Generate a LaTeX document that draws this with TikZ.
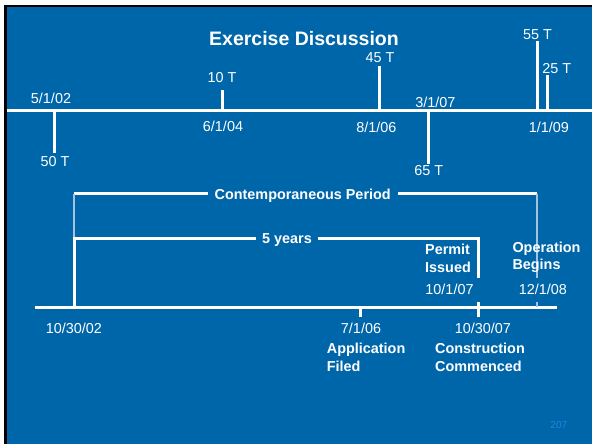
\documentclass[tikz,border=0pt]{standalone}
\usepackage{fontspec}
\setmainfont{Liberation Sans}
\definecolor{slideblue}{RGB}{0,102,170}
\definecolor{paleline}{RGB}{165,195,225}
\definecolor{pagenum}{RGB}{40,130,220}

\begin{document}
\begin{tikzpicture}[x=1pt, y=-1pt, font=\fontsize{14.4}{17.5}\selectfont,
  every node/.style={text=white, inner sep=0pt},
  bar/.style={white, line width=3pt},
  faint/.style={paleline, line width=1.2pt},
  heading/.style={font=\fontsize{14.4}{17.5}\selectfont\bfseries},
  gap/.style={fill=slideblue, inner xsep=7pt, inner ysep=2pt},
  event/.style={heading, align=left, anchor=north west}]
  % Slide
  \useasboundingbox (0,0) rectangle (592,444);
  \fill[black] (4,5) rectangle (592,444);
  \fill[slideblue] (7,7.5) rectangle (592,444);

  \node[font=\fontsize{19.5}{22}\selectfont\bfseries] (title) at (304,38.5) {Exercise Discussion};

  % Upper time line
  \draw[bar] (7,110) -- (592,110);
  \draw[bar] (54,110) -- (54,153);
  \draw[bar] (222,110) -- (222,90);
  \draw[bar] (379,110) -- (379,66);
  \draw[bar] (428.5,110) -- (428.5,164);
  \draw[bar] (537,110) -- (537,41);
  \draw[bar] (547,110) -- (547,75);

  \node (d0502) at (51,98)      {5/1/02};
  \node (t50)   at (55,161.7)   {50 T};
  \node (t10)   at (222,77.8)   {10 T};
  \node (d0604) at (223,126.5)  {6/1/04};
  \node (t45)   at (380,57.8)   {45 T};
  \node (d0806) at (376.3,127.2) {8/1/06};
  \node (d0307) at (435.3,102.8) {3/1/07};
  \node (t65)   at (428.8,170.8) {65 T};
  \node (t55)   at (537.5,34.2)  {55 T};
  \node (t25)   at (556.7,68.2)  {25 T};
  \node (d0109) at (548.8,127.2) {1/1/09};

  % Lower time line and periods
  \draw[bar] (34.5,307) -- (556.5,307);
  \draw[bar] (74,193.5) -- (537,193.5);
  \draw[faint] (74,193.5) -- (74,238);
  \draw[faint] (537,193.5) -- (537,307);
  \draw[bar] (74,307) |- (478,238) -- (478,317);
  \draw[bar] (360,307) -- (360,317);

  \node[heading, gap] (contemp) at (302.7,196) {Contemporaneous Period};
  \node[heading, gap, inner xsep=6pt] (fiveyr) at (287,240) {5 years};

  \node[fill=slideblue, inner xsep=7pt, inner ysep=7pt] (d1001) at (449.5,289.8) {10/1/07};
  \node[fill=slideblue, inner xsep=7pt, inner ysep=7pt] (d1201) at (542.8,289.8) {12/1/08};
  \node[event] (permit) at (425,244.3) {Permit\\Issued};
  \node[event] (operate) at (512.3,241.7) {Operation\\Begins};

  \node (d1030a) at (73.8,328.5) {10/30/02};
  \node (d0706)  at (361,328.8)  {7/1/06};
  \node (d1030b) at (482.8,328.8) {10/30/07};
  \node[event] (apply) at (326.7,343.3) {Application\\Filed};
  \node[event] (build) at (435,343.3) {Construction\\Commenced};

  \node[text=pagenum, font=\fontsize{10}{12}\selectfont] (page) at (558.8,425.5) {207};
\end{tikzpicture}
\end{document}
